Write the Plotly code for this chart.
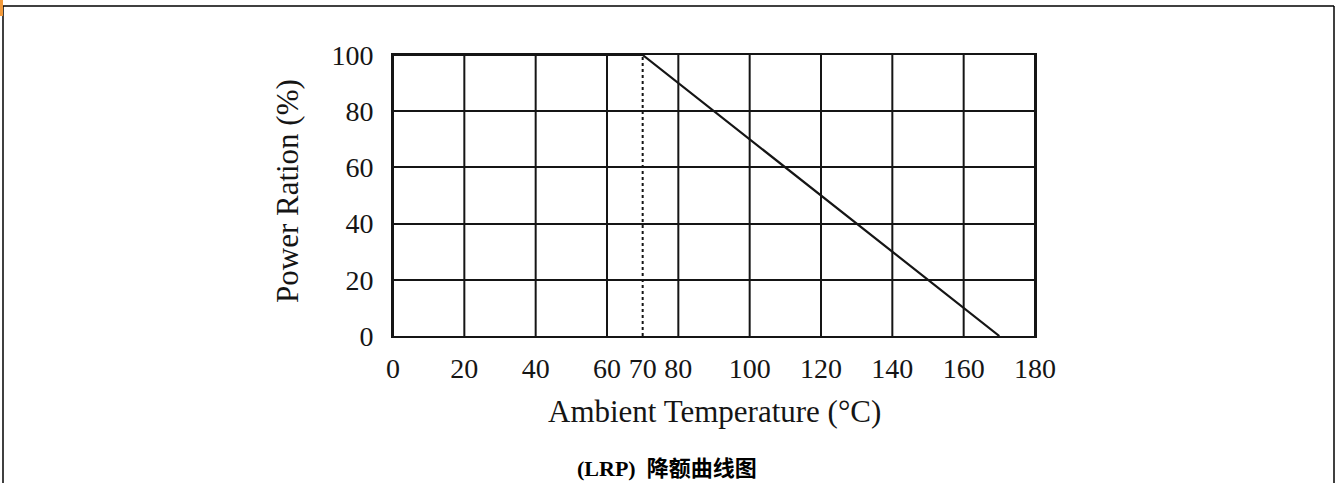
import plotly.graph_objects as go

# ---- data ----
temps = [0, 70, 170]            # ambient temperature (°C)
power = [100, 100, 0]           # power ratio (%)
x_tickvals = [0, 20, 40, 60, 70, 80, 100, 120, 140, 160, 180]
x_gridvals = [0, 20, 40, 60, 80, 100, 120, 140, 160, 180]
y_tickvals = [0, 20, 40, 60, 80, 100]
x_title = "Ambient Temperature (°C)"
y_title = "Power Ration (%)"
caption = "<b>(LRP)\u00a0\u00a0降额曲线图</b>"

# ---- layout geometry (pixels) ----
W, H = 1341, 483
L, R, T, B = 393, 1035, 55, 336   # plot area edges
pw, ph = R - L, B - T

def px_x(px):
    return (px - L) / pw

def px_y(py):
    return (B - py) / ph

SERIF = "Liberation Serif, Times New Roman, serif"
INK = "#151515"

fig = go.Figure()

# knee dotted line (from the data's knee point)
knee_t = temps[1]
fig.add_trace(go.Scatter(
    x=[knee_t, knee_t], y=[min(power), max(power)],
    mode="lines", line=dict(color=INK, width=2, dash="dot"),
    hoverinfo="skip", showlegend=False))

# derating curve
fig.add_trace(go.Scatter(
    x=temps, y=power, mode="lines",
    line=dict(color=INK, width=2.2),
    showlegend=False))

# vertical grid lines (70 is shown dotted instead)
for v in x_gridvals:
    fig.add_shape(type="line", xref="x", yref="paper", x0=v, x1=v, y0=0, y1=1,
                  line=dict(color=INK, width=2), layer="below")

# outer frame of the figure box
fl, ft, fr, fb = 3, 6, 1334, 495
frame = dict(color="#000", width=1.5)
fig.add_shape(type="line", xref="paper", yref="paper",
              x0=px_x(fl), x1=px_x(fr), y0=px_y(ft), y1=px_y(ft), line=frame)
fig.add_shape(type="line", xref="paper", yref="paper",
              x0=px_x(fl), x1=px_x(fl), y0=px_y(ft), y1=px_y(fb), line=frame)
fig.add_shape(type="line", xref="paper", yref="paper",
              x0=px_x(fr), x1=px_x(fr), y0=px_y(ft), y1=px_y(fb), line=frame)
# small orange corner marker
fig.add_shape(type="rect", xref="paper", yref="paper",
              x0=px_x(-2), x1=px_x(3), y0=px_y(0), y1=px_y(16),
              fillcolor="#F29A3C", line=dict(width=0))

fig.add_annotation(text=x_title, xref="paper", yref="paper",
                   x=0.5, y=px_y(411), xanchor="center", yanchor="middle",
                   showarrow=False, font=dict(family=SERIF, size=31, color=INK))
fig.add_annotation(text=y_title, xref="paper", yref="paper", textangle=-90,
                   x=px_x(287), y=px_y(191), xanchor="center", yanchor="middle",
                   showarrow=False, font=dict(family=SERIF, size=31, color=INK))
fig.add_annotation(text=caption, xref="paper", yref="paper",
                   x=px_x(667), y=px_y(468), xanchor="center", yanchor="middle",
                   showarrow=False,
                   font=dict(family="Liberation Serif, Noto Sans CJK SC, serif",
                             size=22, color="#000"))

fig.update_xaxes(range=[0, 180], tickmode="array", tickvals=x_tickvals,
                 ticktext=[str(v) for v in x_tickvals],
                 showgrid=False, zeroline=False,
                 showline=True, mirror=True, linecolor=INK, linewidth=2,
                 ticks="outside", ticklen=6, tickcolor="rgba(0,0,0,0)",
                 tickfont=dict(family=SERIF, size=28, color=INK))
fig.update_yaxes(range=[0, 100], tickmode="array", tickvals=y_tickvals,
                 showgrid=True, gridcolor=INK, gridwidth=2, zeroline=False,
                 showline=True, mirror=True, linecolor=INK, linewidth=2,
                 ticks="outside", ticklen=12, tickcolor="rgba(0,0,0,0)",
                 tickfont=dict(family=SERIF, size=28, color=INK))

fig.update_layout(width=W, height=H,
                  margin=dict(l=L, r=W - R, t=T, b=H - B, pad=0),
                  paper_bgcolor="white", plot_bgcolor="white",
                  showlegend=False)

fig.write_html("out.html", config={"displayModeBar": False},
               post_script="document.body.style.margin='0';")
